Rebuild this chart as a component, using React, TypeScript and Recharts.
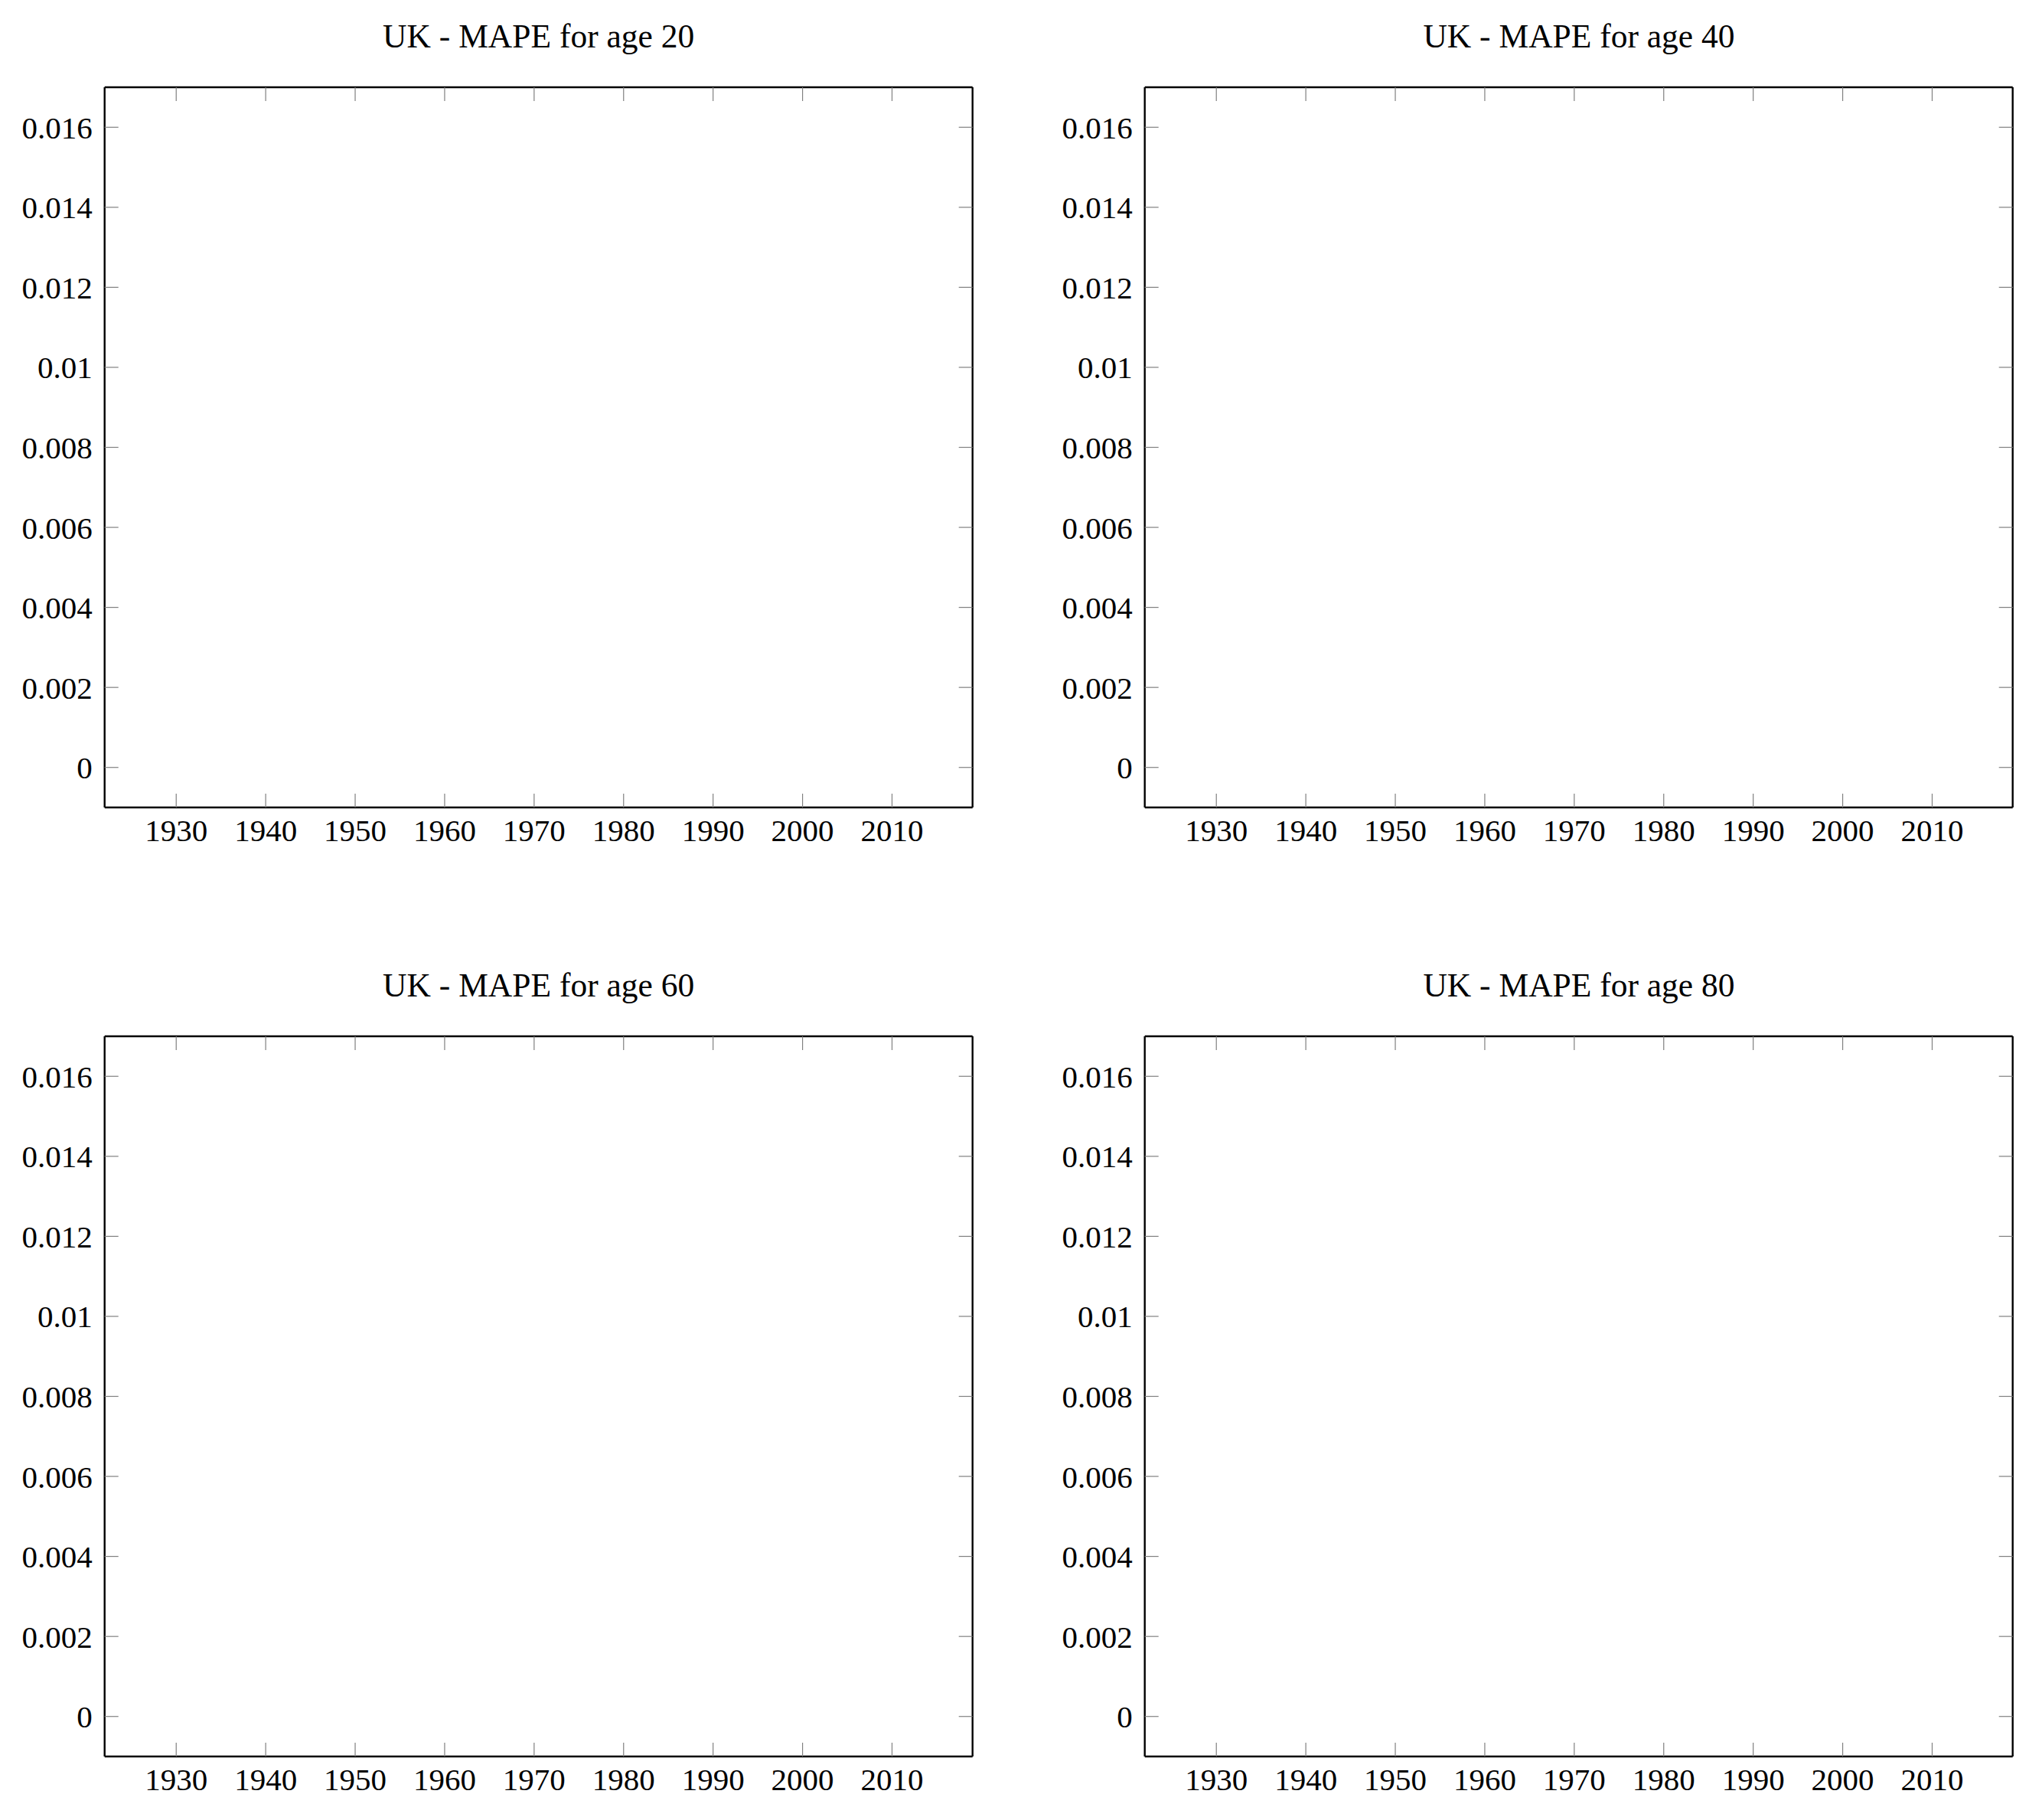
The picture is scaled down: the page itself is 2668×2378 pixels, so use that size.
import { LineChart, Line, XAxis, YAxis } from 'recharts';

// panels: UK MAPE by age (the reference shows empty axes, no series drawn)
const ages = [20, 40, 60, 80];
const years = [1922, 2019];
const mape: (number | null)[] = [null, null];

const yearTicks = [1930, 1940, 1950, 1960, 1970, 1980, 1990, 2000, 2010];
const mapeTicks = [0, 0.002, 0.004, 0.006, 0.008, 0.01, 0.012, 0.014, 0.016];
const yearDomain = [1922, 2019];
const mapeDomain = [-0.001, 0.017];

const data = years.map((year, i) => ({ year, mape: mape[i] }));

const FONT = '"Liberation Serif", "Times New Roman", serif';
const axisLine = { stroke: '#000', strokeWidth: 2.4 };
const tickLine = { stroke: '#808080', strokeWidth: 1.2 };
const tickText = { fill: '#000', fontSize: 41, fontFamily: FONT };

function Panel({ age, left, top }: { age: number; left: number; top: number }) {
  return (
    <div style={{ position: 'absolute', left, top, width: 1320, height: 1150 }}>
      <div
        style={{
          position: 'absolute',
          left: 136.7,
          top: 26,
          width: 1134,
          textAlign: 'center',
          fontFamily: FONT,
          fontSize: 43.5,
          lineHeight: '43.5px',
          color: '#000',
          whiteSpace: 'nowrap',
        }}
      >
        UK - MAPE for age {age}
      </div>
      <LineChart
        width={1320}
        height={1150}
        data={data}
        margin={{ top: 104, right: 39.3, bottom: 35, left: 6.7 }}
        style={{ position: 'absolute', left: 0, top: 0 }}
      >
        <XAxis
          xAxisId="b"
          dataKey="year"
          type="number"
          domain={yearDomain}
          ticks={yearTicks}
          interval={0}
          allowDataOverflow
          height={60}
          tickSize={-18}
          tickMargin={32.7}
          axisLine={axisLine}
          tickLine={tickLine}
          tick={tickText}
        />
        <XAxis
          xAxisId="t"
          orientation="top"
          dataKey="year"
          type="number"
          domain={yearDomain}
          ticks={yearTicks}
          interval={0}
          allowDataOverflow
          height={10}
          tickSize={-18}
          axisLine={axisLine}
          tickLine={tickLine}
          tickFormatter={() => ''}
        />
        <YAxis
          yAxisId="l"
          type="number"
          domain={mapeDomain}
          ticks={mapeTicks}
          interval={0}
          allowDataOverflow
          width={130}
          tickSize={-18}
          tickMargin={34}
          axisLine={axisLine}
          tickLine={tickLine}
          tick={tickText}
        />
        <YAxis
          yAxisId="r"
          orientation="right"
          type="number"
          domain={mapeDomain}
          ticks={mapeTicks}
          interval={0}
          allowDataOverflow
          width={10}
          tickSize={-18}
          axisLine={axisLine}
          tickLine={tickLine}
          tickFormatter={() => ''}
        />
        <Line
          xAxisId="b"
          yAxisId="l"
          dataKey="mape"
          stroke="#1f77b4"
          dot={false}
          isAnimationActive={false}
        />
      </LineChart>
    </div>
  );
}

export default function App() {
  return (
    <div
      style={{
        position: 'absolute',
        left: 0,
        top: 0,
        width: 2668,
        height: 2378,
        background: '#fff',
        overflow: 'hidden',
      }}
    >
      {ages.map((age, i) => (
        <Panel key={age} age={age} left={(i % 2) * 1359.3} top={Math.floor(i / 2) * 1240} />
      ))}
    </div>
  );
}
